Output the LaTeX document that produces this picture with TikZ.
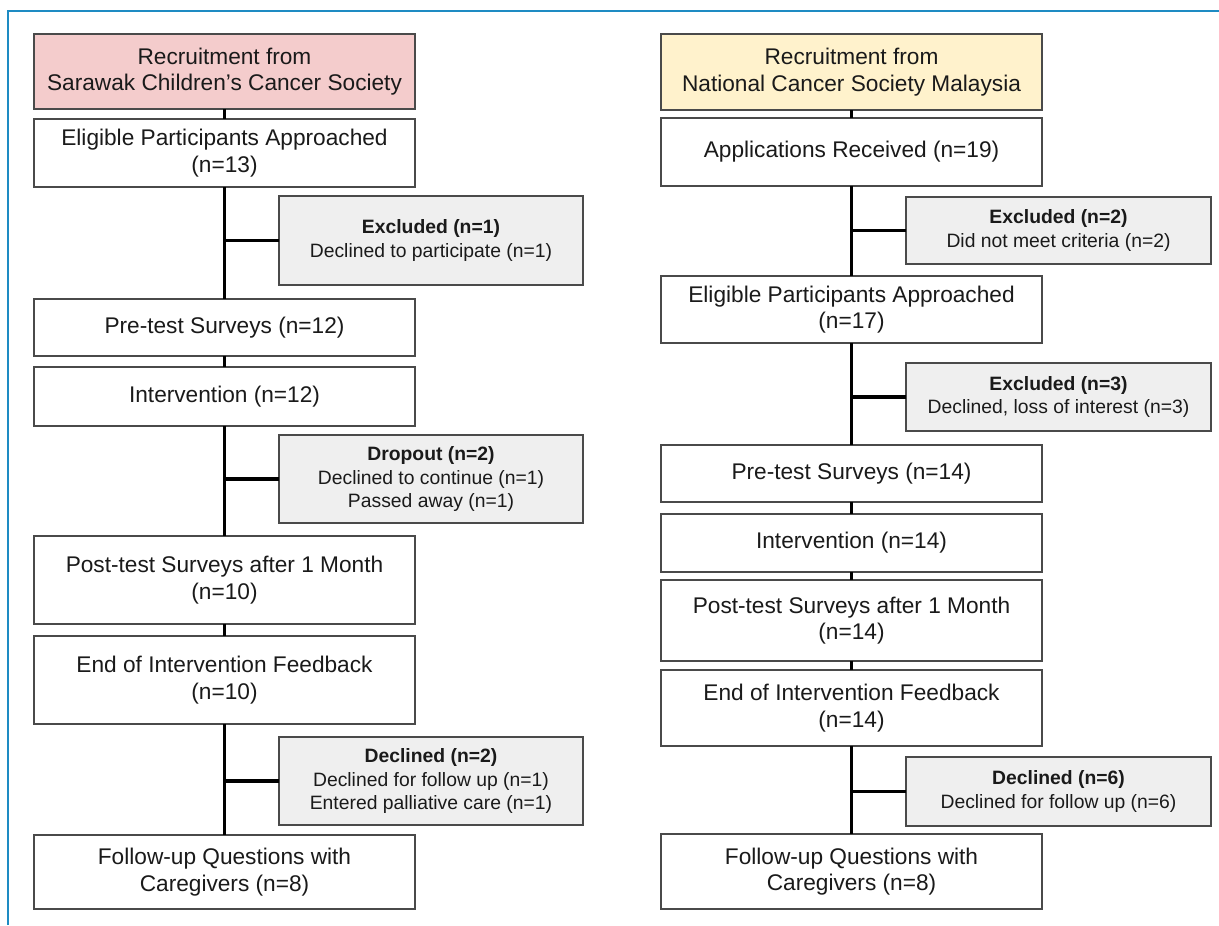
\documentclass[tikz,border=0pt]{standalone}
\usepackage{fontspec}
\setmainfont{Liberation Sans}
\definecolor{frameblue}{HTML}{1E8BC3}
\definecolor{pinkfill}{HTML}{F4CCCC}
\definecolor{yellowfill}{HTML}{FFF2CC}
\definecolor{grayfill}{HTML}{EFEFEF}
\definecolor{boxline}{HTML}{4A4A4A}
\definecolor{txt}{HTML}{1A1A1A}
\begin{document}
\begin{tikzpicture}[x=0.75pt,y=-0.75pt,
  box/.style={draw=boxline, line width=1.3pt, fill=white, inner sep=0pt, outer sep=0pt,
    align=center, text=txt, font=\fontsize{17}{19.9}\selectfont},
  side/.style={box, fill=grayfill, font=\fontsize{14.5}{17.3}\selectfont},
  bw/.style={minimum width=#1*0.75pt},
  bh/.style={minimum height=#1*0.75pt},
  conn/.style={line width=2.3pt, black},
]
\useasboundingbox (0,0) rectangle (1219,925);
\draw[frameblue, line width=2.2pt] (8,925) -- (8,11) -- (1219,11);

% ---- left column ----
\node[box, fill=pinkfill, bw=381, bh=75] (hdrL) at (224.5,71.5) {Recruitment from\\Sarawak Children’s Cancer Society};
\node[box, bw=381, bh=68] (eligL) at (224.5,153) {Eligible Participants Approached\\(n=13)};
\node[side, bw=304, bh=89] (exclL) at (431,240.5) {\textbf{Excluded (n=1)}\\Declined to participate (n=1)};
\node[box, bw=381, bh=57] (preL) at (224.5,327.5) {Pre-test Surveys (n=12)};
\node[box, bw=381, bh=59] (intL) at (224.5,396.5) {Intervention (n=12)};
\node[side, bw=304, bh=88] (dropL) at (431,479) {\textbf{Dropout (n=2)}\\Declined to continue (n=1)\\Passed away (n=1)};
\node[box, bw=381, bh=88] (postL) at (224.5,580) {Post-test Surveys after 1 Month\\(n=10)};
\node[box, bw=381, bh=88] (endL) at (224.5,680) {End of Intervention Feedback\\(n=10)};
\node[side, bw=304, bh=88] (declL) at (431,781) {\textbf{Declined (n=2)}\\Declined for follow up (n=1)\\Entered palliative care (n=1)};
\node[box, bw=381, bh=74] (fuL) at (224.5,872) {Follow-up Questions with\\Caregivers (n=8)};

% ---- right column ----
\node[box, fill=yellowfill, bw=381, bh=76] (hdrR) at (851.5,72) {Recruitment from\\National Cancer Society Malaysia};
\node[box, bw=381, bh=68] (appR) at (851.5,152) {Applications Received (n=19)};
\node[side, bw=305, bh=67] (exclR1) at (1058.5,230.5) {\textbf{Excluded (n=2)}\\Did not meet criteria (n=2)};
\node[box, bw=381, bh=67] (eligR) at (851.5,309.5) {Eligible Participants Approached\\(n=17)};
\node[side, bw=305, bh=68] (exclR2) at (1058.5,397) {\textbf{Excluded (n=3)}\\Declined, loss of interest (n=3)};
\node[box, bw=381, bh=57] (preR) at (851.5,473.5) {Pre-test Surveys (n=14)};
\node[box, bw=381, bh=58] (intR) at (851.5,543) {Intervention (n=14)};
\node[box, bw=381, bh=81] (postR) at (851.5,620.5) {Post-test Surveys after 1 Month\\(n=14)};
\node[box, bw=381, bh=76] (endR) at (851.5,708) {End of Intervention Feedback\\(n=14)};
\node[side, bw=305, bh=69] (declR) at (1058.5,791.5) {\textbf{Declined (n=6)}\\Declined for follow up (n=6)};
\node[box, bw=381, bh=75] (fuR) at (851.5,871.5) {Follow-up Questions with\\Caregivers (n=8)};

% ---- connectors left ----
\draw[conn] (hdrL.south) -- (eligL.north);
\draw[conn] (eligL.south) -- (preL.north);
\draw[conn] (preL.south) -- (intL.north);
\draw[conn] (intL.south) -- (postL.north);
\draw[conn] (postL.south) -- (endL.north);
\draw[conn] (endL.south) -- (fuL.north);
\draw[conn] (exclL.west) -- (exclL.west -| eligL.south);
\draw[conn] (dropL.west) -- (dropL.west -| intL.south);
\draw[conn] (declL.west) -- (declL.west -| endL.south);

% ---- connectors right ----
\draw[conn] (hdrR.south) -- (appR.north);
\draw[conn] (appR.south) -- (eligR.north);
\draw[conn] (eligR.south) -- (preR.north);
\draw[conn] (preR.south) -- (intR.north);
\draw[conn] (intR.south) -- (postR.north);
\draw[conn] (postR.south) -- (endR.north);
\draw[conn] (endR.south) -- (fuR.north);
\draw[conn] (exclR1.west) -- (exclR1.west -| appR.south);
\draw[conn] (exclR2.west) -- (exclR2.west -| eligR.south);
\draw[conn] (declR.west) -- (declR.west -| endR.south);
\end{tikzpicture}
\end{document}
